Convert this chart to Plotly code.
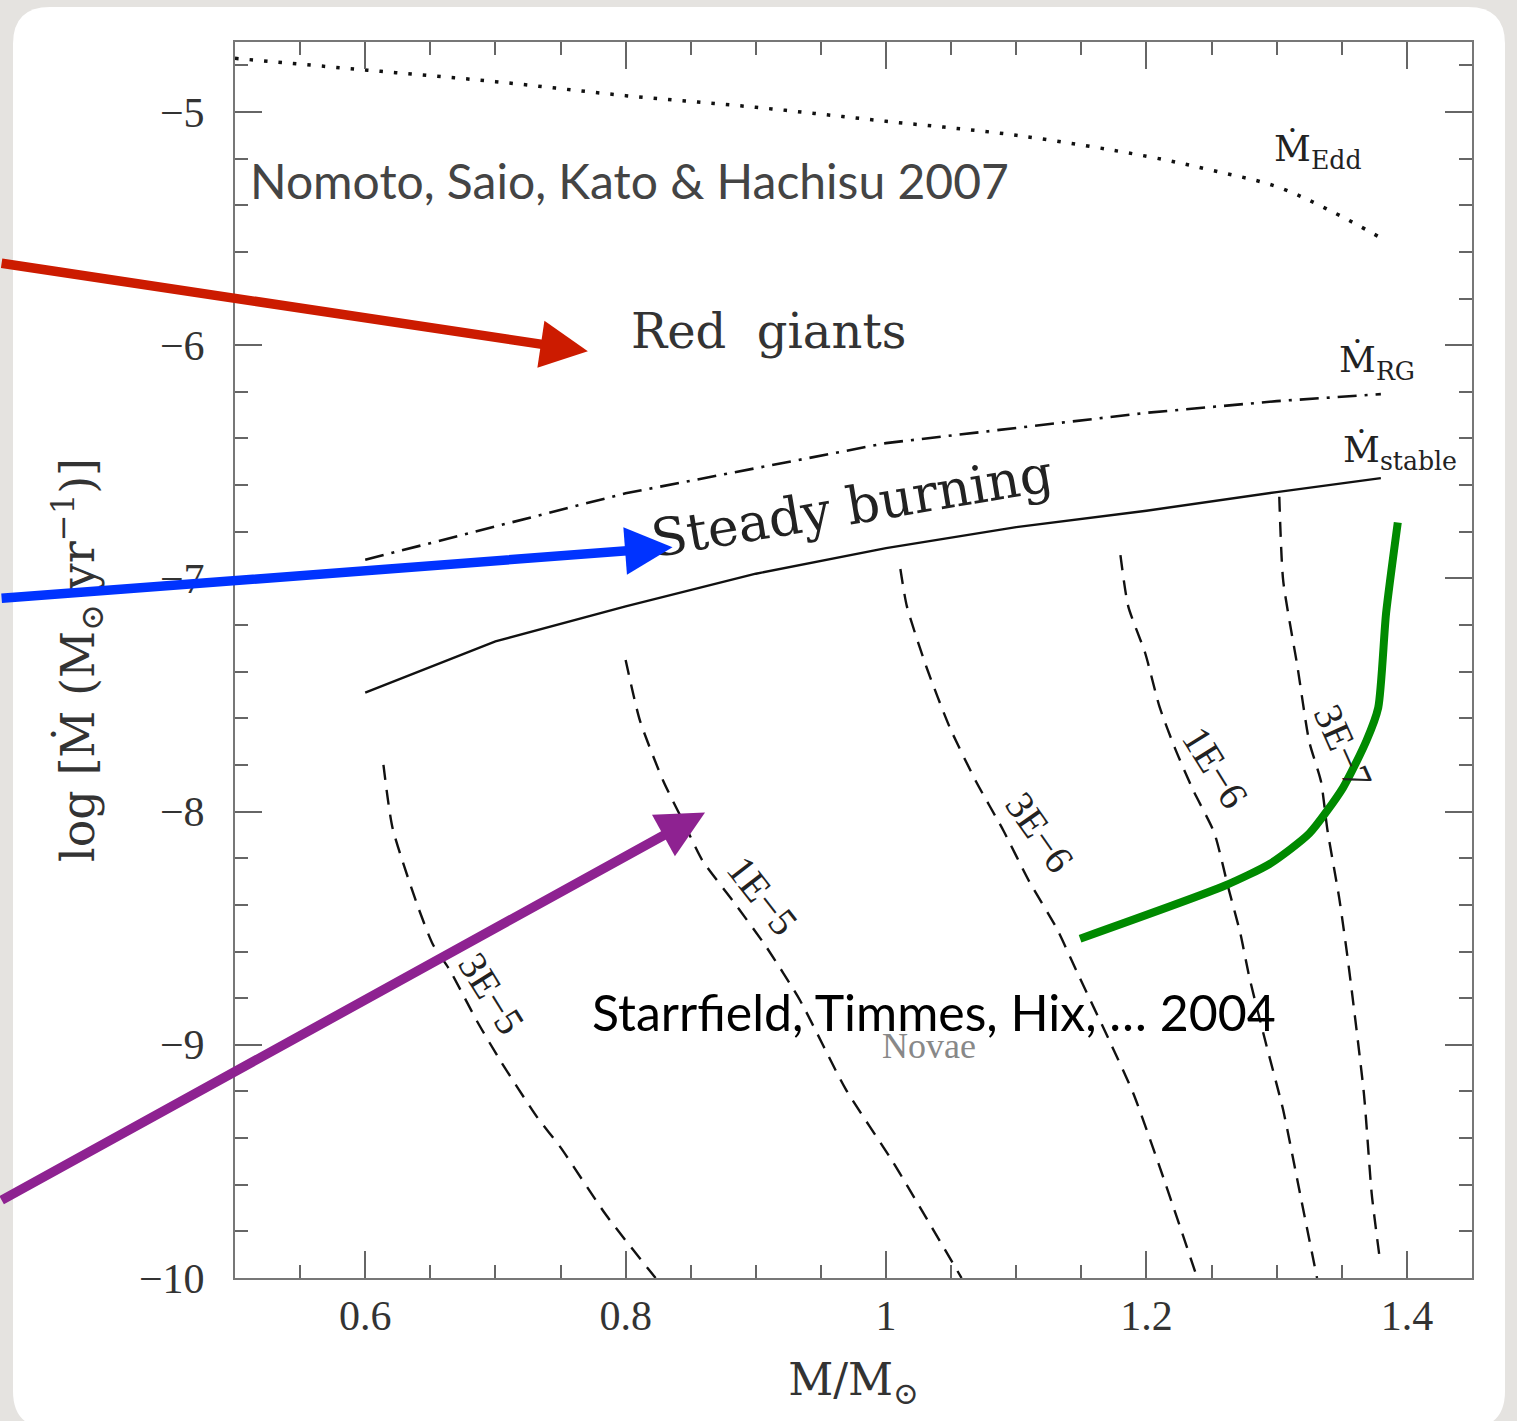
import plotly.graph_objects as go

# ---------------- data ----------------
mass_edd = [0.50, 0.60, 0.70, 0.80, 0.90, 1.00, 1.10, 1.20, 1.25, 1.30, 1.34, 1.38]
mdot_edd = [-4.77, -4.82, -4.87, -4.93, -4.98, -5.04, -5.10, -5.19, -5.25, -5.32, -5.42, -5.54]

mass_rg = [0.60, 0.80, 1.00, 1.20, 1.30, 1.38]
mdot_rg = [-6.92, -6.635, -6.42, -6.29, -6.24, -6.21]

mass_stable = [0.60, 0.70, 0.80, 0.90, 1.00, 1.10, 1.20, 1.30, 1.38]
mdot_stable = [-7.49, -7.27, -7.12, -6.98, -6.87, -6.78, -6.71, -6.63, -6.57]

# ignition-mass contours (dashed)
mass_3e5 = [0.614, 0.621, 0.640, 0.652, 0.665, 0.686, 0.704, 0.732, 0.750, 0.785, 0.823]
mdot_3e5 = [-7.80, -8.07, -8.40, -8.57, -8.68, -8.90, -9.07, -9.31, -9.44, -9.73, -10.0]

mass_1e5 = [0.800, 0.811, 0.829, 0.844, 0.859, 0.882, 0.908, 0.934, 0.969, 1.005, 1.058]
mdot_1e5 = [-7.35, -7.61, -7.87, -8.04, -8.21, -8.38, -8.58, -8.81, -9.19, -9.50, -10.0]

mass_3e6 = [1.011, 1.016, 1.031, 1.049, 1.069, 1.090, 1.110, 1.131, 1.146, 1.173, 1.190, 1.213, 1.239]
mdot_3e6 = [-6.96, -7.12, -7.38, -7.64, -7.87, -8.08, -8.30, -8.50, -8.68, -9.00, -9.21, -9.57, -10.0]

mass_1e6 = [1.180, 1.186, 1.199, 1.210, 1.222, 1.236, 1.252, 1.263, 1.272, 1.279, 1.292, 1.305, 1.318, 1.331]
mdot_1e6 = [-6.90, -7.12, -7.32, -7.55, -7.73, -7.91, -8.09, -8.33, -8.52, -8.71, -9.00, -9.28, -9.64, -10.0]

mass_3e7 = [1.302, 1.305, 1.316, 1.325, 1.334, 1.339, 1.348, 1.355, 1.367, 1.373, 1.379]
mdot_3e7 = [-6.65, -7.01, -7.38, -7.70, -7.87, -8.08, -8.37, -8.65, -9.21, -9.64, -9.91]

contour_names = ["3E−5", "1E−5", "3E−6", "1E−6", "3E−7"]
contour_label_x = [0.697, 0.905, 1.118, 1.253, 1.351]
contour_label_y = [-8.78, -8.36, -8.09, -7.81, -7.72]
contour_label_angle = [58, 52, 55, 58, 66]

# green highlighted curve
mass_green = [1.149, 1.260, 1.295, 1.325, 1.351, 1.369, 1.378, 1.384, 1.393]
mdot_green = [-8.545, -8.318, -8.223, -8.094, -7.897, -7.695, -7.554, -7.150, -6.760]

# arrows: tail (x, y) -> head (x, y)
arrow_colors = ["#cc1b00", "#0033ff", "#8e2291"]
arrow_tail_x = [0.3196, 0.3196, 0.3196]
arrow_tail_y = [-5.648, -7.086, -9.670]
arrow_head_x = [0.771, 0.836, 0.861]
arrow_head_y = [-6.026, -6.867, -8.004]

x_tickvals = [0.6, 0.8, 1.0, 1.2, 1.4]
x_ticktext = ["0.6", "0.8", "1", "1.2", "1.4"]
y_tickvals = [-10, -9, -8, -7, -6, -5]
y_ticktext = ["−10", "−9", "−8", "−7", "−6", "−5"]

# ---------------- figure ----------------
W, H = 1517, 1421
ML, MR, MT, MB = 235, 45, 42, 143
PW, PH = W - ML - MR, H - MT - MB

fig = go.Figure()

fig.add_trace(go.Scatter(x=mass_edd, y=mdot_edd, mode="lines",
                         line=dict(color="#111", width=3.5, dash="3.5px,11px", shape="spline"),
                         showlegend=False, hoverinfo="skip"))
fig.add_trace(go.Scatter(x=mass_rg, y=mdot_rg, mode="lines",
                         line=dict(color="#111", width=2.6, dash="19px,8px,3px,8px"),
                         showlegend=False, hoverinfo="skip"))
fig.add_trace(go.Scatter(x=mass_stable, y=mdot_stable, mode="lines",
                         line=dict(color="#111", width=2.4),
                         showlegend=False, hoverinfo="skip"))

for xs, ys in [(mass_3e5, mdot_3e5), (mass_1e5, mdot_1e5), (mass_3e6, mdot_3e6),
               (mass_1e6, mdot_1e6), (mass_3e7, mdot_3e7)]:
    fig.add_trace(go.Scatter(x=xs, y=ys, mode="lines",
                             line=dict(color="#111", width=2.4, dash="15px,10px",
                                       shape="spline", smoothing=0.6),
                             showlegend=False, hoverinfo="skip"))

fig.add_trace(go.Scatter(x=mass_green, y=mdot_green, mode="lines",
                         line=dict(color="#008a00", width=8, shape="spline", smoothing=0.6),
                         showlegend=False, hoverinfo="skip"))

serif = "DejaVu Serif"
tserif = "Liberation Serif"
ann = []

for name, lx, ly, ang in zip(contour_names, contour_label_x, contour_label_y, contour_label_angle):
    ann.append(dict(x=lx, y=ly, xref="x", yref="y", text=name, showarrow=False,
                    textangle=ang, font=dict(family=tserif, size=40, color="#222")))

ann += [
    dict(x=0.51, y=-5.292, xref="x", yref="y", xanchor="left", yanchor="middle",
         text="Nomoto, Saio, Kato &amp; Hachisu 2007", showarrow=False,
         font=dict(family="Lato", size=48, color="#444")),
    dict(x=0.9096, y=-5.94, xref="x", yref="y", text="Red  giants", showarrow=False,
         font=dict(family=serif, size=48, color="#333")),
    dict(x=0.9737, y=-6.69, xref="x", yref="y", text="Steady burning", showarrow=False,
         textangle=-9.5, font=dict(family=serif, size=52, color="#222")),
    dict(x=0.7726, y=-8.858, xref="x", yref="y", xanchor="left", yanchor="middle",
         text="Starrfield, Timmes, Hix, … 2004", showarrow=False,
         font=dict(family="Lato", size=50, color="#000")),
    dict(x=1.0328, y=-9.004, xref="x", yref="y", text="Novae", showarrow=False,
         font=dict(family=tserif, size=36, color="#888")),
    dict(x=1.332, y=-5.17, xref="x", yref="y", text="Ṁ<sub>Edd</sub>", showarrow=False,
         font=dict(family=serif, size=36, color="#222")),
    dict(x=1.377, y=-6.075, xref="x", yref="y", text="Ṁ<sub>RG</sub>", showarrow=False,
         font=dict(family=serif, size=36, color="#222")),
    dict(x=1.3945, y=-6.46, xref="x", yref="y", text="Ṁ<sub>stable</sub>", showarrow=False,
         font=dict(family=serif, size=36, color="#222")),
]

for c, tx, ty, hx, hy in zip(arrow_colors, arrow_tail_x, arrow_tail_y, arrow_head_x, arrow_head_y):
    ann.append(dict(x=hx, y=hy, ax=tx, ay=ty, xref="x", yref="y", axref="x", ayref="y",
                    text="", showarrow=True, arrowhead=2, arrowsize=1.0, arrowwidth=9.5,
                    arrowcolor=c, standoff=0, startstandoff=0))

# white rounded card on grey background
x0 = (13 - ML) / PW
x1 = (1505 - ML) / PW
y1 = (H - MB - 7) / PH
y0 = (H - MB - 1428) / PH
rx = 37 / PW
ry = 37 / PH
card = (f"M{x0+rx},{y1} L{x1-rx},{y1} Q{x1},{y1} {x1},{y1-ry} L{x1},{y0+ry} "
        f"Q{x1},{y0} {x1-rx},{y0} L{x0+rx},{y0} Q{x0},{y0} {x0},{y0+ry} "
        f"L{x0},{y1-ry} Q{x0},{y1} {x0+rx},{y1} Z")

fig.update_layout(
    width=W, height=H, autosize=False,
    margin=dict(l=ML, r=MR, t=MT, b=MB),
    paper_bgcolor="#e5e3e0", plot_bgcolor="white",
    shapes=[dict(type="path", xref="paper", yref="paper", path=card,
                 fillcolor="white", line=dict(width=0), layer="below")],
    annotations=ann,
    showlegend=False,
)

axis_common = dict(showgrid=False, zeroline=False, showline=True, linecolor="#777", linewidth=2,
                   mirror="allticks", ticks="inside", ticklen=27, tickwidth=2, tickcolor="#666",
                   tickfont=dict(family=tserif, size=42, color="#333"))

fig.update_xaxes(range=[0.5, 1.45], tickmode="array", tickvals=x_tickvals, ticktext=x_ticktext,
                 minor=dict(tickmode="linear", tick0=0, dtick=0.05, ticks="inside", ticklen=13,
                            tickwidth=2, tickcolor="#666"),
                 ticklabelstandoff=0,
                 title=dict(text="M/M<sub>⊙</sub>", standoff=26,
                            font=dict(family=serif, size=44, color="#333")),
                 **axis_common)
fig.update_yaxes(range=[-10, -4.7], tickmode="array", tickvals=y_tickvals, ticktext=y_ticktext,
                 minor=dict(tickmode="linear", tick0=0, dtick=0.2, ticks="inside", ticklen=13,
                            tickwidth=2, tickcolor="#666"),
                 ticklabelstandoff=20,
                 title=dict(text="log [Ṁ (M<sub>⊙</sub> yr<sup>−1</sup>)]", standoff=30,
                            font=dict(family=serif, size=46, color="#333")),
                 **axis_common)

fig.write_html("out.html")
